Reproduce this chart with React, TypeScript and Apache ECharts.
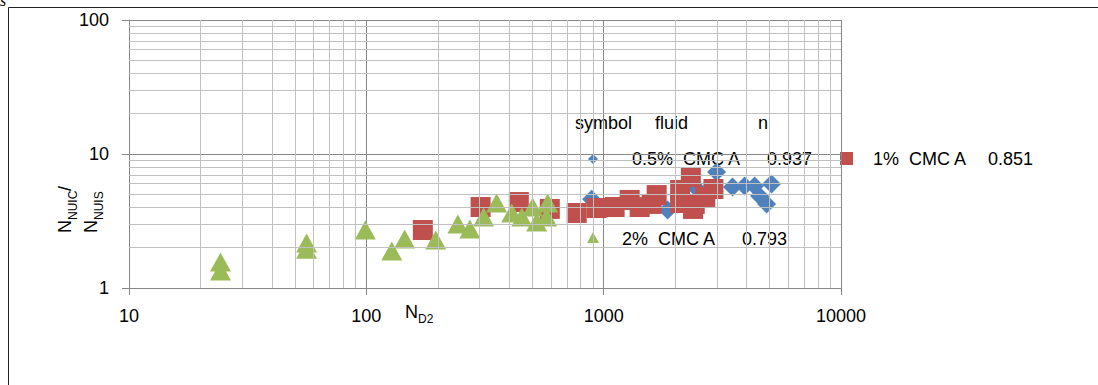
import React, { useEffect, useRef } from "react";
import * as echarts from "echarts";

// N_D2 vs N_NUIC/N_NUIS for three CMC solutions
const cmc05Data: [number, number][] = [
  [890, 4.6], [1860, 3.82], [2470, 5.5], [2990, 7.34], [3491, 5.67],
  [3925, 5.77], [4325, 5.77], [4539, 4.86], [4857, 4.24], [5096, 5.97],
];
const cmc1Data: [number, number][] = [
  [173, 2.71], [303, 4.02], [439, 4.38], [593, 3.89], [770, 3.63],
  [934, 3.95], [1112, 4.02], [1287, 4.54], [1418, 4.02], [1593, 4.24],
  [1672, 4.94], [2100, 5.39], [2330, 6.73], [2100, 4.31], [2420, 4.24],
  [2380, 3.89], [2680, 4.78], [2900, 5.48],
];
const cmc2Data: [number, number][] = [
  [24.3, 1.56], [24.3, 1.34], [56, 2.17], [56, 1.95], [99, 2.71],
  [128, 1.89], [145, 2.32], [196, 2.28], [243, 3.0], [273, 2.76],
  [312, 3.39], [354, 4.31], [410, 3.63], [452, 3.39], [502, 4.02],
  [522, 3.11], [575, 3.39], [581, 4.31],
];

const xMinorTicks = [20, 30, 40, 50, 60, 70, 80, 90, 200, 300, 400, 500, 600, 700, 800, 900, 2000, 3000, 4000, 5000, 6000, 7000, 8000, 9000];
const yMinorTicks = [2, 3, 4, 5, 6, 7, 8, 9, 20, 30, 40, 50, 60, 70, 80, 90];

const legendHeader = ["symbol", "fluid", "n"];
const legendFluids = ["0.5%  CMC A", "1%  CMC A", "2%  CMC A"];
const legendN = ["0.937", "0.851", "0.793"];

const BLUE = "#4F81BD";
const RED = "#C0504D";
const GREEN = "#9BBB59";
const MAJOR = "#878787";
const MINOR = "#C0C0C0";
const FONT = "Liberation Sans";

export default function App() {
  const ref = useRef<HTMLDivElement>(null);
  useEffect(() => {
    if (!ref.current) return;
    const chart = echarts.init(ref.current, null, { renderer: "svg" });
    const txt = (x: number, y: number, text: string, size = 18, extra: any = {}) => ({
      type: "text",
      x,
      y,
      silent: true,
      style: { text, fontSize: size, fontFamily: FONT, fill: "#000", align: "left", verticalAlign: "middle", ...extra },
    });
    const axisCommon = {
      type: "log" as const,
      logBase: 10,
      axisLine: { show: true, lineStyle: { color: MAJOR, width: 1 } },
      axisTick: { show: true, inside: false, length: 7, lineStyle: { color: MAJOR } },
      splitLine: { show: true, lineStyle: { color: MAJOR, width: 1 } },
      minorTick: { show: false },
      minorSplitLine: { show: false },
      axisLabel: {
        fontSize: 18,
        fontFamily: FONT,
        color: "#000",
        formatter: (v: number) => String(Math.round(v)),
      },
    };
    chart.setOption({
      animation: false,
      grid: { left: 129, top: 20, width: 712, height: 268, containLabel: false },
      xAxis: { ...axisCommon, min: 10, max: 10000, axisLabel: { ...axisCommon.axisLabel, margin: 19 } },
      yAxis: { ...axisCommon, min: 1, max: 100, axisLabel: { ...axisCommon.axisLabel, margin: 20 } },
      series: [
        {
          type: "scatter",
          data: [],
          z: 1,
          silent: true,
          markLine: {
            silent: true,
            symbol: "none",
            label: { show: false },
            lineStyle: { color: MINOR, width: 1, type: "solid" },
            emphasis: { disabled: true },
            data: [
              ...xMinorTicks.map((v) => ({ xAxis: v })),
              ...yMinorTicks.map((v) => ({ yAxis: v })),
            ],
          },
        },
        {
          name: "0.5% CMC A",
          type: "scatter",
          symbol: "diamond",
          symbolSize: 19,
          itemStyle: { color: BLUE, opacity: 1 },
          data: cmc05Data,
          z: 2,
          silent: true,
        },
        {
          name: "1% CMC A",
          type: "scatter",
          symbol: "rect",
          symbolSize: 20,
          itemStyle: { color: RED, opacity: 1 },
          data: cmc1Data,
          z: 3,
          silent: true,
        },
        {
          name: "2% CMC A",
          type: "scatter",
          symbol: "triangle",
          symbolSize: [21, 19],
          itemStyle: { color: GREEN, opacity: 1 },
          data: cmc2Data,
          z: 4,
          silent: true,
        },
      ],
      graphic: [
        // outer frame
        { type: "line", silent: true, shape: { x1: 8.5, y1: 7.5, x2: 1098, y2: 7.5 }, style: { stroke: "#222", lineWidth: 1 } },
        { type: "line", silent: true, shape: { x1: 8.5, y1: 7.5, x2: 8.5, y2: 385 }, style: { stroke: "#222", lineWidth: 1 } },
        { type: "text", x: 0, y: 8, silent: true, style: { text: "s", fontSize: 16, fontStyle: "italic", fontFamily: "Liberation Serif", fill: "#000", verticalAlign: "bottom" } },
        // y-axis title (rotated, two lines)
        {
          type: "group",
          x: 65,
          y: 233,
          rotation: Math.PI / 2,
          silent: true,
          children: [
            txt(0, 0, "N", 18),
            txt(13, 8, "NUIC", 12),
            txt(42, 0, "/", 18),
          ],
        },
        {
          type: "group",
          x: 91,
          y: 233,
          rotation: Math.PI / 2,
          silent: true,
          children: [
            txt(0, 0, "N", 18),
            txt(13, 8, "NUIS", 12),
          ],
        },
        // x-axis title
        txt(405, 312, "N", 18),
        txt(418, 319, "D2", 12),
        // legend
        txt(575, 123, legendHeader[0]),
        txt(655, 123, legendHeader[1]),
        txt(758, 123, legendHeader[2]),
        { type: "polygon", silent: true, shape: { points: [[593, 154], [598, 159], [593, 164], [588, 159]] }, style: { fill: BLUE } },
        txt(632, 159, legendFluids[0]),
        txt(767, 159, legendN[0]),
        { type: "rect", silent: true, shape: { x: 840, y: 152, width: 13, height: 13 }, style: { fill: RED } },
        txt(873, 159, legendFluids[1]),
        txt(988, 159, legendN[1]),
        { type: "polygon", silent: true, shape: { points: [[593, 232], [599, 243], [587, 243]] }, style: { fill: GREEN } },
        txt(622, 239, legendFluids[2]),
        txt(742, 239, legendN[2]),
      ],
    });
    return () => chart.dispose();
  }, []);
  return (
    <div
      ref={ref}
      style={{ position: "fixed", left: 0, top: 0, width: 1098, height: 385, background: "#fff" }}
    />
  );
}
